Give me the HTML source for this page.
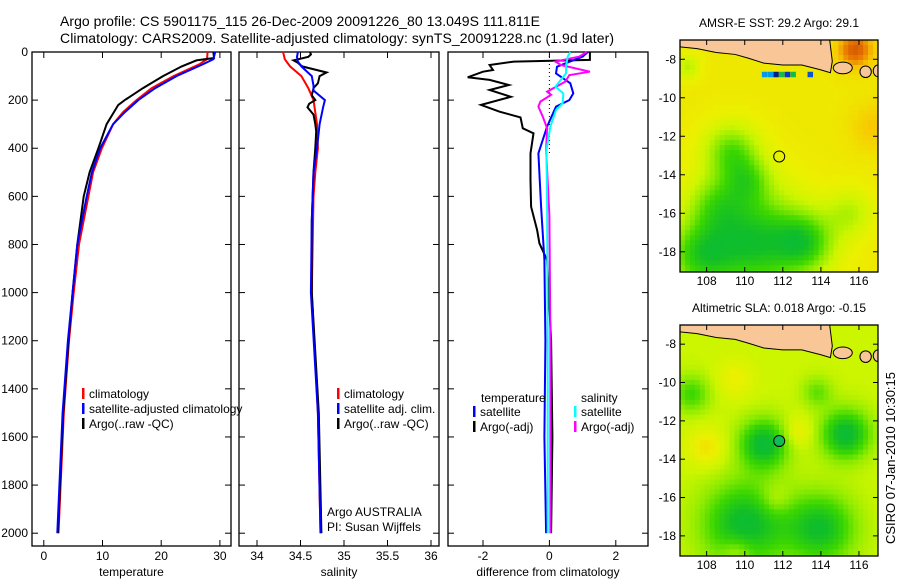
<!DOCTYPE html>
<html><head><meta charset="utf-8"><style>
html,body{margin:0;padding:0;background:#fff;}
svg{display:block;font-family:"Liberation Sans",sans-serif;}
</style></head><body>
<svg id="fig" width="900" height="580" viewBox="0 0 900 580">
<defs>
<clipPath id="c1"><rect x="680" y="40" width="198" height="232"/></clipPath>
<clipPath id="c2"><rect x="680" y="325" width="198" height="231"/></clipPath>
</defs>
<g id="titles">
<text x="60" y="26" font-size="14" textLength="480">Argo profile: CS 5901175_115 26-Dec-2009 20091226_80 13.049S 111.811E</text>
<text x="60" y="43" font-size="14" textLength="554">Climatology: CARS2009. Satellite-adjusted climatology: synTS_20091228.nc (1.9d later)</text>
</g>
<g id="p1"></g>
<g id="p2"></g>
<g id="p3"></g>
<g id="m1"></g>
<g id="m2"></g>
<text transform="translate(895,458) rotate(-90)" font-size="13" text-anchor="middle">CSIRO 07-Jan-2010 10:30:15</text>
</svg>
<script>
// ---- data ----
const depthTicks=[0,200,400,600,800,1000,1200,1400,1600,1800,2000];
const tempTicks=[0,10,20,30];
const salTicks=[34,34.5,35,35.5,36];
const diffTicks=[-2,0,2];
const tClimD=[0,30,50,100,150,200,250,300,400,500,600,800,1000,1200,1500,2000];
const tClimV=[27.9,27.8,26.6,22.1,18.4,15.8,13.5,11.8,9.9,8.4,7.6,6.0,5.1,4.3,3.4,2.5];
const tSatD=[0,30,50,100,150,200,250,300,400,500,600,800,1000,1200,1500,2000];
const tSatV=[29.2,28.9,27.2,22.6,19.0,16.1,13.8,11.8,9.6,8.2,7.3,5.7,4.9,4.1,3.2,2.3];
const tArgoD=[0,25,35,60,100,150,200,220,300,400,500,600,800,1000,1200,1500,2000];
const tArgoV=[28.9,29.0,26.0,23.5,20.3,16.9,13.8,12.7,10.7,9.3,7.8,6.8,5.7,4.9,4.2,3.3,2.4];
const sClimD=[0,30,60,100,150,200,300,400,500,600,1000,1500,2000];
const sClimV=[34.30,34.32,34.38,34.51,34.59,34.65,34.69,34.70,34.67,34.65,34.63,34.70,34.73];
const sSatD=[0,20,40,60,100,140,160,200,230,300,400,500,700,1000,1500,2000];
const sSatV=[34.47,34.46,34.47,34.51,34.63,34.65,34.65,34.78,34.76,34.72,34.69,34.65,34.63,34.62,34.70,34.73];
const sArgoD=[0,10,20,35,45,60,85,100,130,150,180,200,215,230,260,300,330,400,500,700,1000,1500,2000];
const sArgoV=[34.61,34.62,34.59,34.42,34.47,34.52,34.80,34.72,34.70,34.65,34.63,34.67,34.60,34.58,34.65,34.67,34.68,34.67,34.65,34.63,34.63,34.71,34.74];
const dTsatD=[0,19,61,89,130,172,200,227,310,421,504,643,865,1200,1600,2000];
const dTsatV=[1.16,1.0,0.23,0.2,0.63,0.72,0.6,0.2,-0.07,-0.33,-0.3,-0.25,-0.15,-0.12,-0.15,-0.1];
const dTargoD=[0,33,40,54,75,82,105,116,137,158,186,220,248,272,317,338,421,532,643,740,795,865,1200,1600,2000];
const dTargoV=[1.22,1.22,-1.07,-1.8,-1.7,-2.0,-2.46,-1.8,-1.22,-1.8,-1.16,-2.06,-1.5,-0.87,-0.8,-0.48,-0.57,-0.57,-0.55,-0.37,-0.3,-0.07,0.05,0.09,0.05];
const dSsatD=[0,19,61,89,144,172,213,241,310,407,643,1200,2000];
const dSsatV=[0.63,0.55,0.5,0.5,0.18,0.42,0.4,0.2,0.03,-0.09,-0.07,-0.05,-0.05];
const dSargoD=[0,19,40,54,82,96,123,165,178,206,227,269,317,407,680,1200,2000];
const dSargoV=[1.12,0.9,0.18,0.35,1.22,0.6,0.48,-0.07,0.05,-0.27,-0.33,-0.2,-0.07,-0.1,0.0,0.03,0.03];

const NS='http://www.w3.org/2000/svg';
function mk(tag,attrs,parent){const e=document.createElementNS(NS,tag);for(const k in attrs)e.setAttribute(k,attrs[k]);if(parent)parent.appendChild(e);return e;}
const Y0=52,YS=0.2406,PT=52,PB=546;
const yD=d=>Y0+d*YS;

function panel(g,x0,x1,xmin,xpx,ticks,title,fmt){
  const xv=v=>xmin+(v-ticks[0])*xpx;
  const fr=mk('rect',{x:x0,y:PT,width:x1-x0,height:PB-PT,fill:'none',stroke:'#000','stroke-width':1.3},g);
  
  
  depthTicks.forEach(d=>{
    const y=yD(d);
    mk('line',{x1:x0,x2:x0+6,y1:y,y2:y,stroke:'#000'},g);
    mk('line',{x1:x1-6,x2:x1,y1:y,y2:y,stroke:'#000'},g);
  });
  ticks.forEach(t=>{
    const x=xv(t);
    mk('line',{x1:x,x2:x,y1:PT,y2:PT+6,stroke:'#000'},g);
    mk('line',{x1:x,x2:x,y1:PB-6,y2:PB,stroke:'#000'},g);
    const tl=mk('text',{x:x,y:560,'font-size':12,'text-anchor':'middle'},g);
    tl.textContent=fmt(t);
    
    
  });
  const at=mk('text',{x:(x0+x1)/2,y:576,'font-size':12,'text-anchor':'middle'},g);
  at.textContent=title;
  
  
  return xv;
}
function line(g,xv,D,V,color,name,w){
  const p=mk('polyline',{points:D.map((d,i)=>xv(V[i]).toFixed(1)+','+yD(d).toFixed(1)).join(' '),fill:'none',stroke:color,'stroke-width':w||2},g);
  
  
}
function legend(g,x,y,color,label,name){
  if(color) mk('rect',{x:x,y:y-10,width:2.5,height:11,fill:color},g);
  const t=mk('text',{x:x+7,y:y,'font-size':12},g);
  t.textContent=label;
  
  
}
const fig=document.getElementById('fig');
depthTicks.forEach(d=>{
  const t=mk('text',{x:28,y:yD(d)+4,'font-size':12,'text-anchor':'end'},fig);
  t.textContent=d;
  
  
});
const g1=document.getElementById('p1');
const x1=panel(g1,32,231,43.8,5.87,tempTicks,'temperature',v=>v);
line(g1,x1,tClimD,tClimV,'#f00','temp-climatology-line');
line(g1,x1,tArgoD,tArgoV,'#000','temp-argo-line');
line(g1,x1,tSatD,tSatV,'#00f','temp-satellite-line');
legend(g1,82,398,'#f00','climatology','legend-climatology');
legend(g1,82,413,'#00f','satellite-adjusted climatology','legend-satellite');
legend(g1,82,428,'#000','Argo(..raw -QC)','legend-argo');

const g2=document.getElementById('p2');
const x2=panel(g2,239,439,257,87,salTicks,'salinity',v=>v);
line(g2,x2,sClimD,sClimV,'#f00','sal-climatology-line');
line(g2,x2,sArgoD,sArgoV,'#000','sal-argo-line');
line(g2,x2,sSatD,sSatV,'#00f','sal-satellite-line');
legend(g2,337,398,'#f00','climatology','legend-climatology');
legend(g2,337,413,'#00f','satellite adj. clim.','legend-satellite');
legend(g2,337,428,'#000','Argo(..raw -QC)','legend-argo');
legend(g2,320,516,null,'Argo AUSTRALIA','float-owner');
legend(g2,320,531,null,'PI: Susan Wijffels','float-pi');

const g3=document.getElementById('p3');
const x3=panel(g3,448,648,483,33.2,diffTicks,'difference from climatology',v=>v);
mk('line',{x1:x3(0),x2:x3(0),y1:PT,y2:yD(420),stroke:'#000','stroke-dasharray':'1,3'},g3);
line(g3,x3,dTargoD,dTargoV,'#000','temp-diff-argo-line');
line(g3,x3,dTsatD,dTsatV,'#00f','temp-diff-satellite-line');
line(g3,x3,dSargoD,dSargoV,'#f0f','sal-diff-argo-line');
line(g3,x3,dSsatD,dSsatV,'#0ff','sal-diff-satellite-line');
legend(g3,474,402,null,'temperature','legend-temperature-heading');
legend(g3,574,402,null,'salinity','legend-salinity-heading');
legend(g3,473,416,'#00f','satellite','legend-temp-satellite');
legend(g3,473,431,'#000','Argo(-adj)','legend-temp-argo');
legend(g3,574,416,'#0ff','satellite','legend-sal-satellite');
legend(g3,574,431,'#f0f','Argo(-adj)','legend-sal-argo');

// ---- maps ----
const lonTicks=[108,110,112,114,116];
const latTicks=[-8,-10,-12,-14,-16,-18];
const argoLon=111.811, argoLat=-13.049;
const cmapStops=[[0,[0,210,200]],[0.18,[0,187,80]],[0.3,[17,190,40]],[0.42,[60,215,0]],[0.52,[140,235,0]],[0.62,[204,245,0]],[0.72,[236,240,0]],[0.82,[248,200,0]],[0.9,[232,120,0]],[1,[192,48,0]]];
function cmap(v){v=Math.max(0,Math.min(1,v));for(let i=1;i<cmapStops.length;i++){const a=cmapStops[i-1],b=cmapStops[i];if(v<=b[0]){const f=(v-a[0])/(b[0]-a[0]);return 'rgb('+a[1].map((c,j)=>Math.round(c+(b[1][j]-c)*f)).join(',')+')';}}}
const sstBlobs=[[109.3,-12.8,1.4,-0.28],[110.2,-14.3,1.2,-0.2],[110.5,-17.5,2.6,-0.42],[107.6,-18.2,1.7,-0.3],[113.2,-17.5,1.5,-0.3],[108.5,-15.5,1.5,-0.2],[116.8,-11.5,1.2,0.08],[115.8,-7.5,1.0,0.2],[115.5,-16,1.2,-0.15],[107,-8.4,0.6,-0.15]];
const slaBlobs=[[111.0,-13.2,1.3,-0.36],[115.3,-12.7,1.3,-0.36],[110,-17.4,2.2,-0.35],[114,-17.6,1.8,-0.32],[108,-13.4,1.0,0.14],[112.8,-12.6,0.8,0.12],[109.5,-9.8,1.0,0.1],[111.6,-16.1,0.8,0.1],[109.6,-18.8,0.8,0.12],[107.2,-10.6,1.0,-0.2],[113.8,-10.5,0.8,-0.15]];
const landPoly=[[106.5,-6.9],[106.5,-7.35],[107.5,-7.45],[108.5,-7.65],[109.5,-7.75],[110.2,-7.95],[111,-8.2],[112,-8.3],[113,-8.3],[114,-8.55],[114.5,-8.7],[114.6,-8.1],[114.45,-6.9]];
function map(g,top,bottom,blobs,base,title,circleFill,clip){
  const L=680,R=878,lon0=106.6,lon1=117.0,lat0=-7.0,lat1=-19.05;
  const X=lo=>L+(lo-lon0)/(lon1-lon0)*(R-L);
  const Y=la=>top+(la-lat0)/(lat1-lat0)*(bottom-top);
  const t=mk('text',{x:(L+R)/2,y:top-13,'font-size':12,'text-anchor':'middle'},g);
  t.textContent=title;
  
  
  const cg=mk('g',{'clip-path':'url(#'+clip+')'},g);
  const step=0.26;
  for(let lo=lon0;lo<lon1;lo+=step){for(let la=lat0;la>lat1;la-=step){
    let v=base;const cx=lo+step/2,cy=la-step/2;
    blobs.forEach(b=>{const d2=((cx-b[0])**2+(cy-b[1])**2)/(b[2]*b[2]);v+=b[3]*Math.exp(-d2);});
    mk('rect',{x:X(lo).toFixed(1),y:Y(la).toFixed(1),width:(X(lo+step)-X(lo)+0.6).toFixed(1),height:(Y(la-step)-Y(la)+0.6).toFixed(1),fill:cmap(v)},cg);
  }}
  const lp=mk('polygon',{points:landPoly.map(p=>X(p[0])+','+Y(p[1])).join(' '),fill:'#f9c797',stroke:'#000','stroke-width':1},cg);
  
  
  [[115.15,-8.45,0.5,0.3],[116.35,-8.65,0.3,0.3],[117.0,-8.6,0.25,0.3]].forEach(e=>{
    const el=mk('ellipse',{cx:X(e[0]),cy:Y(e[1]),rx:e[2]*19,ry:e[3]*19.3,fill:'#f9c797',stroke:'#000','stroke-width':1},cg);
    
    
  });
  const c=mk('circle',{cx:X(argoLon),cy:Y(argoLat),r:5.5,fill:circleFill,stroke:'#000','stroke-width':1},g);
  
  
  mk('rect',{x:L,y:top,width:R-L,height:bottom-top,fill:'none',stroke:'#000','stroke-width':1.3},g);
  lonTicks.forEach(lo=>{const x=X(lo);
    mk('line',{x1:x,x2:x,y1:bottom-5,y2:bottom,stroke:'#000'},g);
    mk('line',{x1:x,x2:x,y1:top,y2:top+5,stroke:'#000'},g);
    const l=mk('text',{x:x,y:bottom+13,'font-size':12,'text-anchor':'middle'},g);l.textContent=lo;
    
    });
  latTicks.forEach(la=>{const y=Y(la);
    mk('line',{x1:L,x2:L+5,y1:y,y2:y,stroke:'#000'},g);
    mk('line',{x1:R-5,x2:R,y1:y,y2:y,stroke:'#000'},g);
    const l=mk('text',{x:L-4,y:y+4,'font-size':12,'text-anchor':'end'},g);l.textContent=la;
    
    });
  return {X,Y};
}
const m1=map(document.getElementById('m1'),40,272,sstBlobs,0.74,'AMSR-E SST: 29.2  Argo: 29.1','none','c1');
const gm1=document.getElementById('m1');
[[110.9,'#0099ee'],[111.2,'#0099ee'],[111.5,'#002288'],[111.8,'#11bb44'],[112.1,'#1133cc'],[112.4,'#11bb44'],[113.3,'#1155cc']].forEach(c=>{
  mk('rect',{x:m1.X(c[0]),y:m1.Y(-8.65),width:5.5,height:5.5,fill:c[1]},gm1);
});
map(document.getElementById('m2'),325,556,slaBlobs,0.62,'Altimetric SLA: 0.018  Argo: -0.15','#11bb55','c2');
</script>
</body></html>
